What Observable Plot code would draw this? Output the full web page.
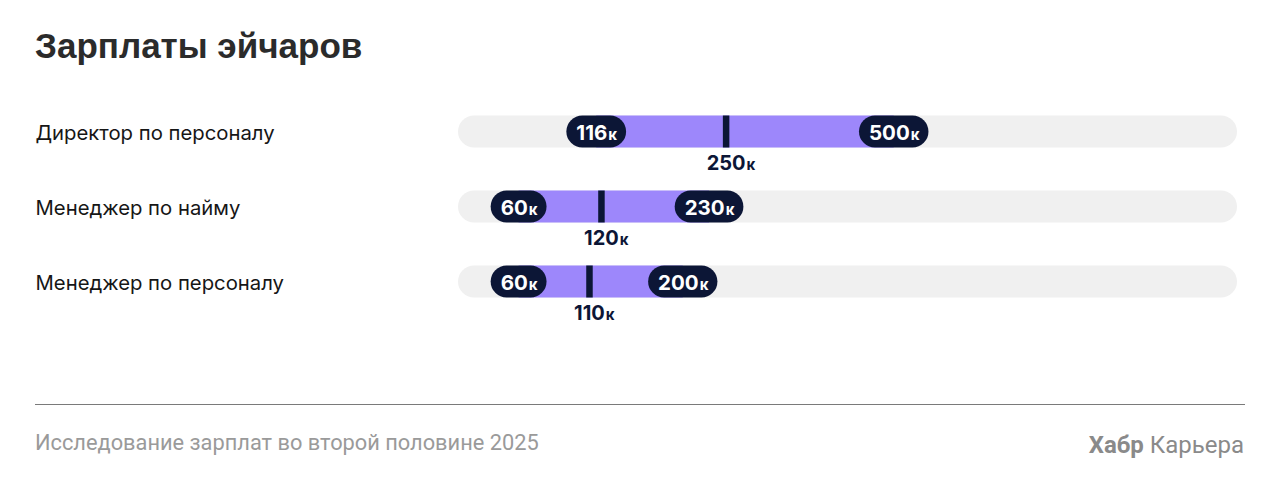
<!DOCTYPE html>
<html><head><meta charset="utf-8">
<script src="https://cdn.jsdelivr.net/npm/d3@7"></script>
<script src="https://cdn.jsdelivr.net/npm/@observablehq/plot@0.6"></script>
<style>
body{margin:0;background:#fff;width:1280px;height:493px;position:relative;overflow:hidden}
#title{position:absolute;left:35px;top:28px;font:bold 35px/35px "Liberation Sans",Arial,sans-serif;color:#2b2b2b;white-space:nowrap}
#chart{position:absolute;left:0;top:94px}
#rule{position:absolute;left:35px;top:404px;width:1210px;height:0;border-top:1.5px solid #7a7a7a}
#source{position:absolute;left:35px;top:432px;font:21.8px/22px Roboto,sans-serif;color:#9a9a9a;white-space:nowrap}
#brand{position:absolute;right:36px;top:433px;font:24px/24px Roboto,sans-serif;color:#8a8a8a;white-space:nowrap}
#brand b{font-weight:700}
</style></head>
<body>
<div id="title">Зарплаты эйчаров</div>
<div id="chart"></div>
<div id="rule"></div>
<div id="source">Исследование зарплат во второй половине 2025</div>
<div id="brand"><b>Хабр</b> Карьера</div>
<script>
// ---- data (thousand roubles) ----
const roles = ["Директор по персоналу", "Менеджер по найму", "Менеджер по персоналу"];
const minSalary = [116, 60, 60];
const medianSalary = [250, 120, 110];
const maxSalary = [500, 230, 200];
const unit = "к";
const xDomain = [29, 1277];

// ---- styles ----
const navy = "#0c1636";
const purple = "#9d87fb";
const track = "#f0f0f0";
const font = "Inter";

const rows = roles.map((role, i) => ({role, min: minSalary[i], med: medianSalary[i], max: maxSalary[i]}));
const pills = rows.flatMap(r => [{role: r.role, value: r.min}, {role: r.role, value: r.max}]);

const ctx = document.createElement("canvas").getContext("2d");
function textW(s, size) { ctx.font = `700 ${size}px ${font}`; return ctx.measureText(s).width; }
const pillSize = 20.5, medSize = 20, kSize = 15, gap = 1, pad = 9.5;

const pillMarks = pills.flatMap(p => {
  const s = String(p.value);
  const nW = textW(s, pillSize);
  const kW = textW(unit, kSize);
  const w = nW + gap + kW + 2 * pad;
  const off = (nW - kW - gap) / 2;
  return [
    Plot.barX([p], {x1: "value", x2: "value", y: "role", fill: navy, rx: 16, insetLeft: -w / 2, insetRight: -w / 2}),
    Plot.text([p], {x: "value", y: "role", text: d => String(d.value), textAnchor: "end", dx: off, dy: 1.3, fill: "white", fontSize: pillSize, fontWeight: 700, fontFamily: font}),
    Plot.text([p], {x: "value", y: "role", text: () => unit, textAnchor: "start", dx: off + gap, dy: 1.3 + 0.32 * (pillSize - kSize), fill: "white", fontSize: kSize, fontWeight: 700, fontFamily: font})
  ];
});

const medianLabelMarks = rows.flatMap(r => {
  const nW = textW(String(r.med), medSize);
  return [
    Plot.text([r], {x: "med", y: "role", text: d => String(d.med), textAnchor: "middle", dy: 31.6, fill: navy, fontSize: medSize, fontWeight: 700, fontFamily: font}),
    Plot.text([r], {x: "med", y: "role", text: () => unit, textAnchor: "start", dx: nW / 2 + gap, dy: 31.6 + 0.32 * (medSize - kSize), fill: navy, fontSize: kSize, fontWeight: 700, fontFamily: font})
  ];
});

const chart = Plot.plot({
  width: 1280,
  height: 260,
  marginLeft: 458,
  marginRight: 43,
  marginTop: 0,
  marginBottom: 35,
  style: {fontFamily: font, background: "transparent", overflow: "visible"},
  x: {type: "sqrt", domain: xDomain, axis: null},
  y: {domain: roles, axis: null, paddingInner: 0.5733, paddingOuter: 0.2867, round: false},
  marks: [
    Plot.barX(rows, {x1: () => xDomain[0], x2: () => xDomain[1], y: "role", fill: track, rx: 16}),
    Plot.barX(rows, {x1: "min", x2: "max", y: "role", fill: purple}),
    Plot.tickX(rows, {x: "med", y: "role", stroke: navy, strokeWidth: 6.5}),
    ...pillMarks,
    ...medianLabelMarks,
    Plot.text(rows, {y: "role", text: "role", frameAnchor: "left", textAnchor: "start", dx: -423, dy: 1.5, fill: "#161616", fontSize: 20.3, fontFamily: font})
  ]
});
document.getElementById("chart").appendChild(chart);
</script>
</body></html>
